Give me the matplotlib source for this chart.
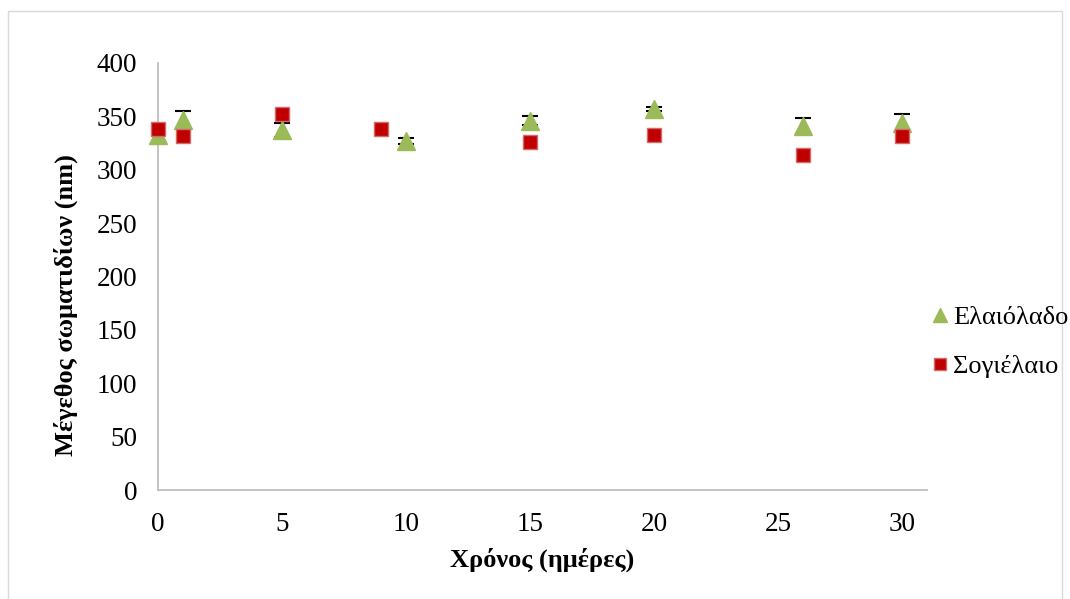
import matplotlib
matplotlib.use("Agg")
import matplotlib.pyplot as plt
from matplotlib.patches import Rectangle

plt.rcParams['font.family'] = ['Liberation Serif', 'DejaVu Serif']

# Days of measurement and mean particle size (nm) for each emulsion
days_olive = [0, 1, 5, 10, 15, 20, 26, 30]
size_olive = [333, 347, 337.5, 327, 346, 357, 341, 344]
err_olive = [0, 8, 6.5, 3, 4, 1.5, 7.5, 8.5]

days_soy = [0, 1, 5, 9, 15, 20, 26, 30]
size_soy = [338, 331.5, 352, 338, 326, 332.5, 313.5, 331.5]

label_olive = "Ελαιόλαδο"
label_soy = "Σογιέλαιο"
xticks = [0, 5, 10, 15, 20, 25, 30]
yticks = [0, 50, 100, 150, 200, 250, 300, 350, 400]

fig = plt.figure(figsize=(10.70, 5.99), dpi=100)
fig.patches.append(Rectangle((8 / 1070, -0.01), (1062 - 8) / 1070, 1 - 11 / 599 + 0.01,
                             transform=fig.transFigure, fill=False,
                             edgecolor='#D9D9D9', linewidth=1.0))

ax = fig.add_axes([158 / 1070, (599 - 490) / 599, (926.7 - 158) / 1070, (490 - 63) / 599])

# error bars only where a spread was measured
eb = [(d, s, e) for d, s, e in zip(days_olive, size_olive, err_olive) if e > 0]
ax.errorbar([p[0] for p in eb], [p[1] for p in eb], yerr=[p[2] for p in eb],
            fmt='none', ecolor='black', elinewidth=1.0, capsize=6, capthick=1.5,
            zorder=2, clip_on=False)
ax.plot(days_olive, size_olive, linestyle='none', marker='^', markersize=13,
        markerfacecolor='#9BBB59', markeredgecolor='#9BBB59', label=label_olive,
        zorder=3, clip_on=False)
ax.plot(days_soy, size_soy, linestyle='none', marker='s', markersize=10.5,
        markerfacecolor='#C00000', markeredgecolor='#D46A6A', markeredgewidth=1.0,
        label=label_soy, zorder=4, clip_on=False)

ax.set_xlim(0, 31)
ax.set_ylim(0, 400)
ax.set_xticks(xticks)
ax.set_yticks(yticks)
ax.tick_params(axis='both', length=0, labelsize=19.5, colors='black')
ax.tick_params(axis='x', pad=16)
ax.tick_params(axis='y', pad=15)

for side in ('top', 'right'):
    ax.spines[side].set_visible(False)
for side in ('left', 'bottom'):
    ax.spines[side].set_color('#BFBFBF')
    ax.spines[side].set_linewidth(1.3)

fig.text(542 / 1070, 1 - 560 / 599, "Χρόνος (ημέρες)", ha='center', va='center',
         fontsize=19, fontweight='bold')
fig.text(66 / 1070, 1 - 305 / 599, "Μέγεθος σωματιδίων (nm)", ha='center', va='center',
         rotation=90, fontsize=19, fontweight='bold')

fig.legend(loc='center left', bbox_to_anchor=(919 / 1070, 1 - 342 / 599), frameon=False,
           fontsize=19, handlelength=0.8, handletextpad=0.1, labelspacing=0.95,
           borderaxespad=0, markerscale=0.8)

fig.savefig("out.png", dpi=100, facecolor='white')
